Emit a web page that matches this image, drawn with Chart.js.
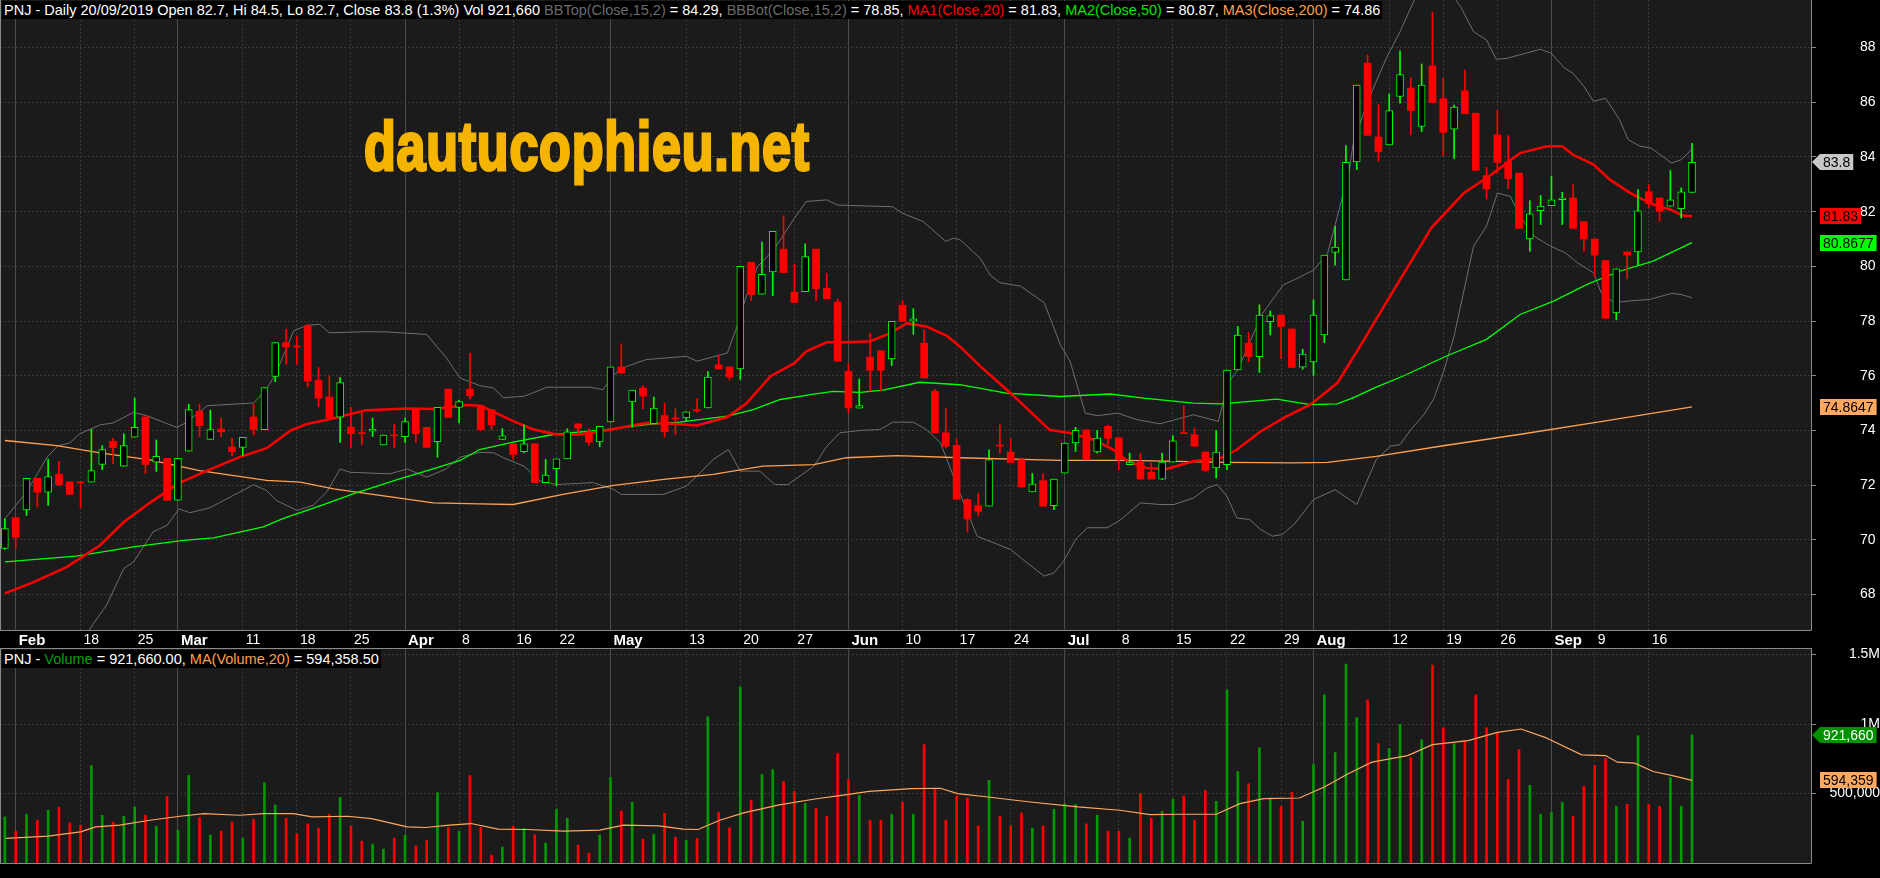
<!DOCTYPE html>
<html>
<head>
<meta charset="utf-8">
<script src="https://cdn.jsdelivr.net/npm/chart.js@4.4.1/dist/chart.umd.min.js"></script>
<style>
  body { margin:0; background:#000; width:1880px; height:878px; overflow:hidden; position:relative; font-family:"Liberation Sans", Arial, sans-serif; }
  #priceCanvas { position:absolute; left:0; top:0; }
  #volCanvas { position:absolute; left:0; top:648px; }
  .legend { position:absolute; left:2px; background:#000; color:#fff; font-size:14.5px; line-height:18px; padding:0 2px; white-space:nowrap; }
  #hdr { top:1px; }
  #volHdr { top:650px; }
  #logo { position:absolute; left:364px; top:107px; font-size:68px; font-weight:bold; color:#f5b400; -webkit-text-stroke:3px #f5b400; transform:scaleX(0.765); transform-origin:0 0; white-space:nowrap; letter-spacing:1px; }
</style>
</head>
<body>
<canvas id="priceCanvas" width="1880" height="648"></canvas>
<canvas id="volCanvas" width="1880" height="230"></canvas>
<div id="logo">dautucophieu.net</div>
<div class="legend" id="hdr"><span>PNJ - Daily 20/09/2019 Open 82.7, Hi 84.5, Lo 82.7, Close 83.8 (1.3%) Vol 921,660 </span><span style="color:#6b6b6b">BBTop(Close,15,2)</span><span> = 84.29, </span><span style="color:#6b6b6b">BBBot(Close,15,2)</span><span> = 78.85, </span><span style="color:#ff0000">MA1(Close,20)</span><span> = 81.83, </span><span style="color:#00e600">MA2(Close,50)</span><span> = 80.87, </span><span style="color:#ffa050">MA3(Close,200)</span><span> = 74.86</span></div>
<div class="legend" id="volHdr"><span>PNJ - </span><span style="color:#00a000">Volume</span><span> = 921,660.00, </span><span style="color:#ffa050">MA(Volume,20)</span><span> = 594,358.50</span></div>
<script>
// daily bars 31/01/2019 .. 20/09/2019, index = trading day
const opens  = [69.68,70.81,71.09,72.25,71.74,72.4,72.12,72.12,72.11,72.76,73.6,72.69,73.75,74.49,72.84,72.98,71.45,73.24,74.7,73.67,
  74.05,73.39,73.38,74.49,74.03,75.97,77.21,77.07,77.82,75.84,75.22,74.48,74.12,73.9,73.97,73.47,73.83,73.77,74.78,74.11,
  73.59,75.51,74.84,75.51,74.9,74.76,73.67,73.51,73.22,73.51,72.09,72.6,72.96,74.24,73.95,73.58,74.31,76.32,75.04,75.55,
  74.25,74.54,74.45,74.46,74.75,74.82,76.4,76.32,76.25,80.15,78.98,79.8,80.63,79.06,79.07,80.63,79.2,78.69,76.16,74.81,
  76.68,76.91,76.61,78.58,77.99,77.19,75.43,73.91,73.45,71.47,71.25,71.23,73.46,73.21,72.93,71.75,72.16,71.25,72.44,73.54,
  74.02,73.21,74.15,73.73,72.75,72.84,72.47,72.22,72.84,73.91,73.84,73.21,72.63,72.75,76.21,77.19,76.7,77.98,78.22,77.71,
  76.31,76.5,77.49,80.51,79.5,83.82,87.43,84.73,84.44,86.21,86.52,85.12,87.33,86.13,85.02,86.42,85.6,83.32,84.81,83.82,
  83.41,81.0,82.04,82.22,82.44,82.5,81.63,81.0,80.21,78.3,80.53,80.53,82.73,82.5,82.2,82.11,82.7];
const highs  = [70.77,70.81,72.25,72.25,72.95,72.87,72.12,72.12,74.03,73.44,73.71,73.87,75.18,74.49,73.65,72.98,72.98,74.96,74.96,74.74,
  74.45,73.71,73.75,74.96,75.57,77.21,77.7,77.45,77.88,76.3,75.99,75.93,74.84,74.74,74.45,73.83,74.22,74.45,74.78,74.11,
  74.84,75.51,75.11,76.82,74.9,74.76,74.06,73.51,74.2,73.51,72.94,72.96,74.06,74.24,74.06,74.15,76.32,77.17,75.47,75.64,
  75.22,75.0,74.79,74.68,75.16,76.15,76.73,76.32,80.0,80.15,80.89,81.28,81.85,80.08,80.82,80.63,79.75,78.81,76.44,75.88,
  77.56,76.91,77.99,78.75,78.45,77.68,75.5,74.8,73.69,71.5,71.71,73.29,74.21,73.7,72.99,72.42,72.42,72.22,73.54,74.11,
  74.02,74.0,74.19,73.73,73.17,73.17,72.81,73.17,73.81,74.9,74.09,73.21,73.99,76.21,77.8,77.58,78.59,78.37,78.22,77.71,
  76.97,78.77,80.41,81.46,84.42,86.63,87.73,85.91,86.3,87.88,86.9,87.4,89.3,86.88,85.9,87.18,85.6,83.62,85.7,84.78,
  83.41,82.4,82.59,83.29,82.71,82.99,81.63,81.0,80.21,79.91,80.53,82.81,82.99,82.5,83.5,82.87,84.5];
const lows   = [69.65,69.68,70.89,71.2,71.26,71.98,71.66,71.17,72.11,72.57,72.78,72.69,73.75,72.43,72.5,71.44,71.45,73.24,73.77,73.67,
  73.77,73.08,73.08,73.83,74.03,75.78,76.42,76.42,75.59,74.87,74.45,73.56,73.38,73.48,73.78,73.47,73.36,73.56,73.56,73.38,
  73.02,74.48,74.27,75.15,74.0,74.03,73.67,72.94,73.18,72.09,72.09,71.96,72.96,73.9,73.46,73.4,74.31,76.1,74.12,74.79,
  74.25,73.75,73.84,74.34,74.66,74.82,76.25,75.84,75.86,78.74,78.98,78.93,79.77,78.68,79.07,78.74,78.82,76.53,74.64,74.81,
  75.43,75.43,76.37,77.99,77.51,75.92,73.91,73.36,71.48,70.28,70.86,71.23,73.17,72.83,71.93,71.75,71.23,71.1,72.44,73.23,
  72.93,73.17,73.48,72.56,72.75,72.22,72.22,72.2,72.84,73.88,73.42,72.5,72.26,72.56,76.21,76.52,76.12,77.49,76.62,76.3,
  76.24,76.01,77.21,80.04,79.5,83.54,84.79,83.84,84.44,85.97,84.81,84.93,85.99,84.05,83.95,85.58,83.51,82.46,83.41,82.84,
  81.39,80.55,81.53,82.22,81.53,81.39,80.55,79.64,78.1,78.04,79.54,80.04,82.14,81.65,82.2,81.77,82.7];
const closes = [70.41,70.09,72.25,71.74,72.31,72.02,71.66,72.08,72.53,73.3,73.37,73.44,74.11,72.75,73.05,71.44,72.98,74.76,74.17,74.03,
  73.95,73.22,73.75,74.03,75.57,77.21,77.05,77.05,75.81,75.18,74.45,75.75,73.88,73.88,74.05,73.83,73.8,74.32,73.88,73.38,
  74.84,74.48,75.05,75.27,74.03,74.21,73.8,73.12,73.51,72.09,72.37,72.96,73.95,74.08,73.57,74.15,76.32,76.1,75.47,75.25,
  74.82,73.95,74.42,74.68,74.72,75.95,76.25,75.95,80.0,78.96,79.71,81.28,79.77,78.68,80.36,79.18,78.82,76.53,74.82,74.91,
  76.2,76.2,77.99,77.99,78.08,75.92,73.91,73.42,71.48,70.76,71.04,72.93,73.43,72.83,71.93,72.04,71.23,72.22,73.54,74.0,
  72.93,73.72,73.71,72.93,72.84,72.22,72.22,72.84,73.62,73.88,73.42,72.54,73.21,76.21,77.49,76.7,78.22,78.2,77.8,76.3,
  76.79,78.22,80.41,80.7,83.8,86.63,84.79,84.2,85.7,87.01,85.7,86.63,85.99,84.9,85.82,85.58,83.51,82.83,83.8,83.21,
  81.39,81.92,82.2,82.43,82.5,81.39,81.0,80.41,78.1,79.91,80.41,82.03,82.29,82.01,82.43,82.72,83.8];
// volume in thousands of shares
const volumes = [331.7,229,350.7,307.8,379.4,400.8,288.7,272,701.5,343.6,293.5,336.4,403.2,343.6,264.8,479.6,236.2,629.9,326.9,200.4,
  229,293.5,179,315,577.4,417.6,322.1,210,281.5,250.5,350.7,472.4,264.8,157.5,136,100.2,179,200.4,121.7,164.6,
  505.8,255.3,229,629.9,255.3,57.3,114.5,264.8,248.1,202.8,143.2,386.5,322.1,128.8,71.6,200.4,615.6,372.2,436.6,171.8,
  207.6,357.9,186.1,164.6,176.6,1052.2,365.1,252.9,1267,451,637,672.9,587,515.4,429.5,393.7,336.4,787.4,601.3,486.7,
  307.8,307.8,350.7,436.6,350.7,851.8,529.7,307.8,482,467.7,267.2,594.1,336.4,267.2,360.3,250.5,267.2,386.5,427.1,422.3,
  281.5,343.6,229,229,179,498.7,322.1,372.2,460.5,482,307.8,522.5,443.8,1245.5,658.5,570.3,830.3,467.7,408,508.2,
  300.6,708.6,1209.7,794.5,1431.6,1045.1,1173.9,859,823.2,997.3,758.7,887.6,1424.4,973.5,859,880.4,1209.7,973.5,937.7,601.3,
  816,558.3,350.7,365.1,436.6,336.4,551.2,701.5,751.6,408,422.3,916.2,422.3,408,615.6,408,921.66];

// indicator lines: x = bar index, y = value
const ma20X = [0,2.6,5.7,8.8,11,13.4,16,18.7,21.7,24.2,26.4,27.9,30,33.4,37.2,39.6,42.7,44,47,48.9,51,53.2,56,59.3,61.2,64,66.8,68.6,70.8,73,74.1,76,77.8,80,81.9,83.4,85.2,87.1,88.3,90.2,93,96.6,98.5,100.7,102.5,103.8,105.6,107.4,109.9,112.4,113.9,116.1,118.5,120.7,123.2,125.3,127.8,131.9,134.9,137,140.1,142.6,144,145,146.9,148.4,150.3,152.4,154,155.1,156];
const ma20Y = [68.04,68.44,69.0,69.8,70.65,71.35,72.05,72.53,73.02,73.35,73.99,74.23,74.41,74.74,74.8,74.78,74.93,74.9,74.34,74.03,73.85,73.85,74.03,74.27,74.25,74.18,74.49,75.0,75.98,76.46,76.89,77.22,77.22,77.26,77.56,77.92,77.8,77.46,77.07,76.34,75.36,74.02,73.9,73.66,73.29,72.87,72.62,72.59,72.87,72.99,73.29,73.96,74.51,74.94,75.73,77.07,78.73,81.41,82.68,83.23,84.14,84.39,84.39,84.08,83.72,83.17,82.68,82.26,82.08,81.86,81.83];
const ma50X = [0,6.6,11.9,16.5,19.3,23.9,25.7,29.4,32.2,36.5,39.6,42.1,43.9,47,50.7,55.6,59.3,62.4,66.8,69.2,71.7,74.8,76.6,79.1,81.2,84.6,88.3,92.6,97.6,102.2,105.3,109.9,112.4,117.6,120.7,123.2,124.7,126.8,129.3,133.3,137,140.1,143.2,146.3,149.3,152.4,156];
const ma50Y = [69.19,69.4,69.74,69.98,70.07,70.47,70.77,71.28,71.68,72.23,72.59,72.9,73.3,73.57,73.85,74.03,74.21,74.3,74.52,74.76,75.13,75.33,75.43,75.39,75.47,75.76,75.67,75.36,75.24,75.33,75.18,75.0,74.97,75.14,74.94,74.97,75.2,75.58,75.99,76.72,77.33,78.24,78.73,79.34,79.82,80.19,80.87];
const ma200X = [0,4.8,8.8,13.4,18,24.2,27.3,30.4,36.5,39.6,43.9,47,51.6,56.3,60.9,65.5,70.1,74.8,77.8,82.5,88.3,97.6,103.8,113,119.2,122.3,126.8,132.7,140,148,156];
const ma200Y = [73.63,73.44,73.18,72.92,72.53,72.17,72.11,71.86,71.52,71.35,71.31,71.29,71.66,71.99,72.21,72.39,72.69,72.75,73.0,73.08,73.0,72.9,72.9,72.83,72.81,72.83,73.05,73.42,73.85,74.35,74.86];
const bbTopX = [0,2,3.9,4.9,6,6.9,8.8,10,11.9,13.1,15.9,16.8,18.7,21.1,23,24.2,25.1,26.7,27.9,29.1,30,33.4,35.3,39,40.8,42.1,43.9,45.2,46.1,48,49.2,50.1,54.1,55.3,56.3,57.5,59.3,63,64,66.8,67.7,68.6,69.6,71.2,73,74.1,76,77,82.1,83,84.9,87,87.7,88.3,90.2,91.1,92,93.9,96.1,97.6,98.5,99.9,101,102.9,104.7,106.8,109.9,112.2,113.1,114,115.4,116.3,118.2,119.5,121,122.3,123.2,124.3,124.7,126.2,127.8,129,130.5,132,133.5,134.6,135.8,137,137.9,138.9,142,143,144.2,145,146,146.9,148,149.3,150.1,151.2,152.2,154.1,155,156];
const bbTopY = [70.77,71.74,73.02,73.44,73.54,73.87,74.2,74.27,74.66,74.54,74.11,74.29,74.9,74.96,75.0,75.51,76.12,77.64,77.84,77.88,77.57,77.61,77.6,77.51,76.66,75.91,75.64,75.55,75.19,75.25,75.43,75.58,75.58,75.49,76.04,76.34,76.59,76.71,76.53,76.83,77.8,78.96,79.99,80.66,81.76,82.37,82.43,82.24,82.18,81.94,81.64,80.91,81.03,80.98,80.29,79.68,79.4,79.28,78.67,77.13,76.52,74.63,74.54,74.63,74.39,74.24,74.57,74.33,75.73,76.21,77.49,78.28,79.32,79.56,79.86,80.47,81.81,83.51,84.57,86.21,87.67,88.58,89.9,90.4,90.1,89.5,88.58,88.28,87.57,87.61,87.94,87.79,87.25,87.06,86.58,86.03,86.15,85.36,84.63,84.39,84.33,83.78,83.9,84.29];
const bbBotX = [0,4,7.5,8.2,9.4,11,11.9,13.7,15,16.1,17.1,18.9,21.1,23,24.2,25.1,27,28.5,29.8,31,31.9,35.6,37.2,39,40.8,42.1,43.9,45.2,46.1,48,49.5,51,54.4,56.3,57,60.9,63,64,65.5,66.9,68,69.8,71.2,72.4,74.8,76,77.2,79.1,80.9,82.1,84,85.2,86.5,87.7,88.3,89.9,93,94.5,96.1,97,97.9,99,100.1,101.9,103,105,106.8,108.1,109.9,111.2,112.1,113,113.9,115.1,116.1,117.2,118.1,119.2,121,123,125,126.8,128.1,129,130,131.2,132.1,133,134,135.8,137,138,139.2,140.1,141.4,142.9,144.3,145.4,146.9,147.6,148.8,150.1,152.1,154.1,155,156];
const bbBotY = [63.5,64.5,66.5,66.94,67.61,68.95,69.19,70.29,70.53,71.13,70.99,71.16,71.62,72.01,71.8,71.44,71.07,71.26,71.77,72.59,72.47,72.41,72.59,72.29,72.59,73.02,73.2,73.18,73.0,72.69,72.15,72.02,72.09,71.84,71.66,71.66,71.96,72.33,72.94,73.3,72.51,72.51,72.02,72.02,72.69,73.42,73.91,74.0,74.03,74.3,74.3,74.03,73.55,72.33,71.71,70.13,69.64,69.16,68.67,68.79,69.22,70.01,70.44,70.44,70.68,71.35,71.29,71.29,71.53,71.9,72.02,71.59,70.8,70.74,70.38,70.13,70.19,70.56,71.47,71.83,71.29,72.93,73.42,73.48,74.03,74.57,75.14,76.11,77.45,80.74,81.47,82.68,82.56,81.83,81.1,80.74,80.49,80.13,79.76,79.03,78.67,78.73,78.79,79.01,78.97,78.85];
const volMaX = [0.1,4,7,8.4,10.6,13.4,16.2,18.4,21.7,23.9,26.7,28.4,31.7,33.9,37.2,38.9,41.1,43.1,45.6,48.3,51.7,55,57.2,60.5,62.7,64.1,66.1,68.3,71.6,74.9,77.2,79.9,83.8,86.5,88.1,90.9,94.8,99.2,103.1,105.9,108.6,112,114.2,116.4,119.7,122,124.2,126.4,129.7,132,135.3,138,140.2,142.4,145.8,148,149.1,150.7,152.4,154.1,156];
const volMaY = [176.6,193.3,224.3,260,272,307.8,336.4,355.5,343.6,355.5,355.5,331.7,336.4,319.7,260,255.3,272,284,243.4,241,229,236.2,272,267.2,243.4,241,307.8,360.3,417.6,460.5,484.4,515.4,534.5,538,498.7,474.8,439,403.2,379.4,348.4,350.7,350.7,427.1,462.9,467.7,546.4,641.8,725.3,773,851.8,880.4,940.1,964,904.3,777.8,773,725.3,718.2,658.5,629.9,594.36];

// axis ticks
const tickIdx    = [1,7,12,16,22,27,32,37,42,47,51,56,63,68,73,78,83,88,93,98,103,108,113,118,121,128,133,138,143,147,152];
const tickLabels = ['Feb','18','25','Mar','11','18','25','Apr','8','16','22','May','13','20','27','Jun','10','17','24','Jul','8','15','22','29','Aug','12','19','26','Sep','9','16'];
const priceTicks = [68,70,72,74,76,78,80,82,84,86,88];
const volTicks   = [500000,1000000,1500000];
const volTickLabels = ['500,000','1M','1.5M'];

const months = ['Feb','Mar','Apr','May','Jun','Jul','Aug','Sep'];
const isUp = i => closes[i] >= opens[i];
const isMonthTick = i => months.includes(tickLabels[i]);
const pts = (xs, ys) => xs.map((x, k) => ({x: x, y: ys[k]}));
const FONT = '"Liberation Sans", Arial, sans-serif';
const X_MIN = -0.45, X_MAX = 167.0;

const panelBg = {
  id: 'panelBg',
  beforeDraw(chart) {
    const {ctx, chartArea: a} = chart;
    ctx.save();
    ctx.fillStyle = '#000';
    ctx.fillRect(0, 0, chart.width, chart.height);
    ctx.fillStyle = '#1b1b1b';
    ctx.fillRect(a.left, a.top, a.right - a.left, a.bottom - a.top);
    ctx.restore();
  },
  afterDraw(chart) {
    const {ctx, chartArea: a} = chart;
    ctx.save();
    ctx.strokeStyle = '#8a8a8a';
    ctx.lineWidth = 1;
    ctx.beginPath();
    ctx.moveTo(a.left + 0.5, a.top); ctx.lineTo(a.left + 0.5, a.bottom);
    ctx.moveTo(a.right + 0.5, a.top); ctx.lineTo(a.right + 0.5, a.bottom + 0.5);
    ctx.moveTo(a.left, a.bottom + 0.5); ctx.lineTo(a.right, a.bottom + 0.5);
    if (chart.canvas.id === 'volCanvas') { ctx.moveTo(a.left, a.top + 0.5); ctx.lineTo(a.right, a.top + 0.5); }
    ctx.stroke();
    // value badges on the right axis
    const y = chart.scales.y;
    ctx.font = '14px ' + FONT;
    ctx.textBaseline = 'middle';
    (chart.options.plugins.panelBg.badges || []).forEach(b => {
      const py = Math.round(y.getPixelForValue(b.v));
      const w = ctx.measureText(b.t).width + 6;
      const x0 = a.right + 9;
      ctx.fillStyle = b.bg;
      ctx.beginPath();
      if (b.arrow) {
        ctx.moveTo(a.right + 1, py); ctx.lineTo(x0, py - 8); ctx.lineTo(x0 + w, py - 8);
        ctx.lineTo(x0 + w, py + 8); ctx.lineTo(x0, py + 8); ctx.closePath();
      } else {
        ctx.rect(x0, py - 8, w, 16);
      }
      ctx.fill();
      ctx.fillStyle = b.fg;
      ctx.fillText(b.t, x0 + 3, py + 1);
    });
    ctx.restore();
  }
};

const xGrid = {
  color: c => isMonthTick(c.index) ? '#4c4c4c' : '#363636',
  lineWidth: 1,
  drawTicks: false
};
const xBorder = { display: false, dash: c => isMonthTick(c.index) ? [] : [2, 2] };
// right axis: fixed width, no extra vertical padding from label padding
const fitRight = s => { s.width = 69; s.paddingTop = 0; s.paddingBottom = 0; };

new Chart(document.getElementById('priceCanvas'), {
  type: 'bar',
  data: {
    datasets: [
      { type: 'bar', data: opens.map((o, i) => ({x: i, y: [o, closes[i]]})), grouped: false, barThickness: 7,
        minBarLength: 1, borderSkipped: false, order: 0,
        backgroundColor: c => isUp(c.dataIndex) ? '#000000' : '#ff0000',
        borderColor: c => isUp(c.dataIndex) ? '#00ff00' : '#ff0000',
        borderWidth: c => isUp(c.dataIndex) ? 1 : 0 },
      { type: 'bar', data: lows.map((l, i) => ({x: i, y: [l, highs[i]]})), grouped: false, barThickness: 1, order: 1,
        backgroundColor: c => isUp(c.dataIndex) ? '#00ff00' : '#ff0000' },
      { type: 'line', data: pts(ma20X, ma20Y), borderColor: '#ff0000', borderWidth: 2.5, pointRadius: 0, order: 2 },
      { type: 'line', data: pts(ma50X, ma50Y), borderColor: '#00ff00', borderWidth: 1.3, pointRadius: 0, order: 3 },
      { type: 'line', data: pts(ma200X, ma200Y), borderColor: '#ffa050', borderWidth: 1.3, pointRadius: 0, order: 4 },
      { type: 'line', data: pts(bbTopX, bbTopY), borderColor: '#6e6e6e', borderWidth: 1, pointRadius: 0, order: 5 },
      { type: 'line', data: pts(bbBotX, bbBotY), borderColor: '#6e6e6e', borderWidth: 1, pointRadius: 0, order: 6 }
    ]
  },
  options: {
    responsive: false, animation: false, devicePixelRatio: 1,
    layout: { padding: 0, autoPadding: false },
    plugins: { legend: { display: false }, tooltip: { enabled: false },
      panelBg: { badges: [
        {v: 83.8, t: '83.8', bg: '#c8c8c8', fg: '#000', arrow: true},
        {v: 81.83, t: '81.83', bg: '#ff0000', fg: '#000'},
        {v: 80.8677, t: '80.8677', bg: '#00ff00', fg: '#000'},
        {v: 74.8647, t: '74.8647', bg: '#ffa860', fg: '#000'}
      ] } },
    scales: {
      x: { type: 'linear', min: X_MIN, max: X_MAX, offset: false,
        afterBuildTicks: s => { s.ticks = tickIdx.map(v => ({value: v})); },
        afterFit: s => { s.height = 18; s.paddingLeft = 0; s.paddingRight = 0; },
        grid: Object.assign({ offset: false }, xGrid), border: xBorder,
        ticks: { autoSkip: false, maxRotation: 0, align: 'start', labelOffset: 3, padding: 2, color: '#ffffff',
          callback: (v, k) => tickLabels[k],
          font: c => ({ family: FONT, size: isMonthTick(c.index) ? 15 : 14, weight: isMonthTick(c.index) ? 'bold' : 'normal' }) } },
      y: { position: 'right', min: 66.7, max: 89.74,
        afterBuildTicks: s => { s.ticks = priceTicks.map(v => ({value: v})); },
        afterFit: fitRight,
        grid: { color: '#3a3a3a', tickColor: '#8a8a8a', tickLength: 5, tickBorderDash: [] },
        border: { display: false, dash: [2, 2] },
        ticks: { color: '#ffffff', padding: 44, font: { family: FONT, size: 14 } } }
    }
  },
  plugins: [panelBg]
});

new Chart(document.getElementById('volCanvas'), {
  type: 'bar',
  data: {
    datasets: [
      { type: 'line', data: pts(volMaX, volMaY.map(v => v * 1000)), borderColor: '#ffa860', borderWidth: 1.2, pointRadius: 0, order: 0 },
      { type: 'bar', data: volumes.map((v, i) => ({x: i, y: v * 1000})), grouped: false, barThickness: 2, order: 1,
        backgroundColor: c => isUp(c.dataIndex) ? '#009a00' : '#ff0000' }
    ]
  },
  options: {
    responsive: false, animation: false, devicePixelRatio: 1,
    layout: { padding: 0, autoPadding: false },
    plugins: { legend: { display: false }, tooltip: { enabled: false },
      panelBg: { badges: [
        {v: 921660, t: '921,660', bg: '#009000', fg: '#fff', arrow: true},
        {v: 594359, t: '594,359', bg: '#ffa860', fg: '#000'}
      ] } },
    scales: {
      x: { type: 'linear', min: X_MIN, max: X_MAX, offset: false,
        afterBuildTicks: s => { s.ticks = tickIdx.map(v => ({value: v})); },
        afterFit: s => { s.height = 15; s.paddingLeft = 0; s.paddingRight = 0; },
        grid: Object.assign({ offset: false }, xGrid), border: xBorder,
        ticks: { display: false } },
      y: { position: 'right', min: 0, max: 1547000,
        afterBuildTicks: s => { s.ticks = volTicks.map(v => ({value: v})); },
        afterFit: fitRight,
        grid: { color: '#3a3a3a', tickColor: '#8a8a8a', tickLength: 5, tickBorderDash: [] },
        border: { display: false, dash: [2, 2] },
        ticks: { color: '#ffffff', padding: 8, crossAlign: 'far', font: { family: FONT, size: 14 },
          callback: (v, k) => volTickLabels[k] } }
    }
  },
  plugins: [panelBg]
});
</script>
</body>
</html>
